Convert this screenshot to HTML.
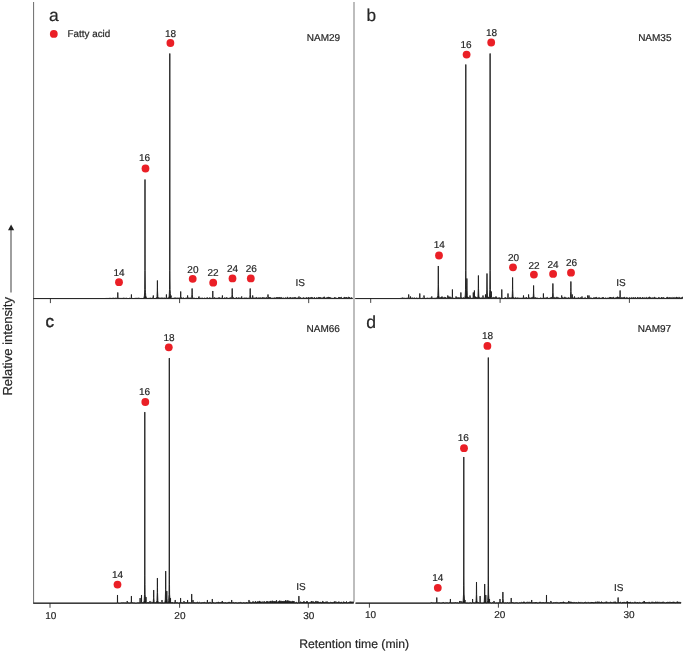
<!DOCTYPE html>
<html lang="en"><head><meta charset="utf-8"><title>Fatty acid chromatograms</title>
<style>
html,body{margin:0;padding:0;background:#fff;}
body{width:685px;height:653px;overflow:hidden;}
svg{display:block;}
</style></head><body>
<svg width="685" height="653" viewBox="0 0 685 653">
<g fill="none">
<path d="M33.6,2 V603.5" stroke="#6a6a6a" stroke-width="1"/>
<path d="M354.0,2 V601.8" stroke="#b2b2b2" stroke-width="1.7"/>
<path d="M50.4,298.5 v4.6" stroke="#444" stroke-width="1"/><path d="M179.6,298.5 v4.6" stroke="#444" stroke-width="1"/><path d="M308.7,298.5 v4.6" stroke="#444" stroke-width="1"/>
<path d="M370.7,298.5 v4.4" stroke="#444" stroke-width="1"/><path d="M500.1,298.5 v4.4" stroke="#444" stroke-width="1"/><path d="M629.4,298.5 v4.4" stroke="#444" stroke-width="1"/>
<path d="M50.0,603.1 v4.7" stroke="#444" stroke-width="1"/><path d="M179.6,603.1 v4.7" stroke="#444" stroke-width="1"/><path d="M308.3,603.1 v4.7" stroke="#444" stroke-width="1"/>
<path d="M369.4,603.1 v4.6" stroke="#444" stroke-width="1"/><path d="M498.4,603.1 v4.6" stroke="#444" stroke-width="1"/><path d="M627.5,603.1 v4.6" stroke="#444" stroke-width="1"/>
</g>
<g fill="#1c1c1c" stroke="#1c1c1c" stroke-width="0.9" stroke-linejoin="bevel">
<path d="M33.50,298.50 L34.00,298.50 L34.50,298.50 L35.00,298.50 L35.50,298.50 L36.00,298.50 L36.50,298.50 L37.00,298.50 L37.50,298.50 L38.00,298.50 L38.50,298.50 L39.00,298.50 L39.50,298.50 L40.00,298.50 L40.50,298.50 L41.00,298.50 L41.50,298.50 L42.00,298.50 L42.50,298.50 L43.00,298.50 L43.50,298.50 L44.00,298.50 L44.50,298.50 L45.00,298.50 L45.50,298.50 L46.00,298.50 L46.50,298.50 L47.00,298.50 L47.50,298.50 L48.00,298.50 L48.50,298.50 L49.00,298.50 L49.50,298.50 L50.00,298.50 L50.50,298.50 L51.00,298.50 L51.50,298.50 L52.00,298.50 L52.50,298.50 L53.00,298.50 L53.50,298.50 L54.00,298.50 L54.50,298.50 L55.00,298.50 L55.50,298.50 L56.00,298.50 L56.50,298.50 L57.00,298.50 L57.50,298.50 L58.00,298.50 L58.50,298.50 L59.00,298.50 L59.50,298.50 L60.00,298.50 L60.50,298.50 L61.00,298.50 L61.50,298.50 L62.00,298.50 L62.50,298.50 L63.00,298.50 L63.50,298.50 L64.00,298.50 L64.50,298.50 L65.00,298.50 L65.50,298.50 L66.00,298.50 L66.50,298.50 L67.00,298.50 L67.50,298.50 L68.00,298.50 L68.50,298.50 L69.00,298.50 L69.50,298.50 L70.00,298.50 L70.50,298.50 L71.00,298.50 L71.50,298.50 L72.00,298.50 L72.50,298.50 L73.00,298.50 L73.50,298.50 L74.00,298.50 L74.50,298.50 L75.00,298.50 L75.50,298.50 L76.00,298.50 L76.50,298.50 L77.00,298.50 L77.50,298.50 L78.00,298.50 L78.50,298.50 L79.00,298.50 L79.50,298.50 L80.00,298.50 L80.50,298.50 L81.00,298.50 L81.50,298.50 L82.00,298.50 L82.50,298.50 L83.00,298.50 L83.50,298.50 L84.00,298.50 L84.50,298.50 L85.00,298.50 L85.50,298.50 L86.00,298.50 L86.50,298.50 L87.00,298.50 L87.50,298.50 L88.00,298.50 L88.50,298.50 L89.00,298.50 L89.50,298.50 L90.00,298.50 L90.50,298.50 L91.00,298.50 L91.50,298.50 L92.00,298.50 L92.50,298.50 L93.00,298.50 L93.50,298.50 L94.00,298.50 L94.50,298.50 L95.00,298.50 L95.50,298.50 L96.00,298.50 L96.50,298.50 L97.00,298.50 L97.50,298.50 L98.00,298.50 L98.50,298.50 L99.00,298.50 L99.50,298.50 L100.00,298.50 L100.50,298.50 L101.00,298.50 L101.50,298.50 L102.00,298.50 L102.50,298.50 L103.00,298.50 L103.50,298.50 L104.00,298.50 L104.50,298.50 L105.00,298.47 L105.50,298.47 L106.00,298.24 L106.50,298.43 L107.00,298.47 L107.50,298.44 L108.00,298.33 L108.50,298.45 L109.00,298.44 L109.50,298.30 L110.00,298.33 L110.50,298.32 L111.00,298.19 L111.50,298.42 L112.00,298.36 L112.50,298.28 L113.00,298.29 L113.50,298.15 L114.00,298.28 L114.50,298.36 L115.00,298.35 L115.50,298.15 L116.00,298.40 L116.50,298.20 L117.00,298.21 L117.17,298.22 L117.50,298.00 L117.72,297.66 L117.76,292.50 L117.84,292.50 L117.88,297.30 L118.00,297.56 L118.43,298.32 L118.50,298.35 L119.00,298.41 L119.50,298.33 L120.00,298.43 L120.50,298.39 L121.00,298.46 L121.50,298.39 L122.00,298.49 L122.50,298.37 L123.00,298.25 L123.50,298.11 L124.00,298.16 L124.50,298.26 L125.00,298.47 L125.50,298.33 L126.00,298.31 L126.50,298.18 L127.00,298.45 L127.50,298.46 L128.00,298.31 L128.50,298.50 L129.00,298.23 L129.50,298.20 L130.00,298.31 L130.50,298.26 L130.77,298.30 L131.00,298.15 L131.32,297.66 L131.36,294.50 L131.44,294.50 L131.48,297.30 L131.50,297.34 L132.00,298.20 L132.03,298.21 L132.50,298.46 L133.00,298.26 L133.50,298.49 L134.00,298.34 L134.50,298.42 L135.00,298.22 L135.50,298.30 L136.00,298.29 L136.50,298.27 L137.00,298.35 L137.50,298.30 L138.00,298.19 L138.50,298.13 L139.00,298.45 L139.50,298.32 L140.00,298.47 L140.50,298.46 L141.00,298.30 L141.50,298.43 L142.00,298.30 L142.50,298.48 L143.00,298.28 L143.50,298.37 L143.70,298.34 L144.00,297.43 L144.40,296.00 L144.50,293.97 L144.72,289.50 L144.90,270.50 L144.97,179.50 L145.00,179.50 L145.03,179.50 L145.10,270.50 L145.30,289.50 L145.50,292.50 L145.70,295.50 L146.00,296.62 L146.50,298.28 L147.00,298.40 L147.50,298.40 L148.00,298.32 L148.50,298.35 L149.00,298.31 L149.50,298.27 L150.00,298.24 L150.50,298.12 L151.00,298.31 L151.50,298.36 L152.00,298.21 L152.50,297.89 L152.67,297.85 L153.00,297.79 L153.22,297.66 L153.26,295.50 L153.34,295.50 L153.38,297.30 L153.50,297.56 L153.93,298.17 L154.00,298.14 L154.50,298.50 L155.00,298.34 L155.50,298.39 L156.00,297.99 L156.40,298.27 L156.50,298.19 L156.98,296.70 L157.00,296.29 L157.26,290.94 L157.37,280.50 L157.43,280.50 L157.50,287.14 L157.54,290.94 L157.85,296.70 L158.00,297.12 L158.50,298.01 L159.00,298.18 L159.50,298.01 L160.00,298.37 L160.50,298.08 L161.00,298.36 L161.50,297.92 L162.00,298.34 L162.50,298.02 L163.00,297.87 L163.50,298.16 L164.00,298.47 L164.50,298.03 L165.00,297.78 L165.50,298.20 L165.77,298.25 L166.00,298.15 L166.32,297.66 L166.36,294.50 L166.44,294.50 L166.48,297.30 L166.50,297.34 L167.00,298.27 L167.03,298.26 L167.50,298.19 L168.00,298.28 L168.50,298.33 L169.00,296.71 L169.20,296.00 L169.50,289.91 L169.52,289.50 L169.70,270.50 L169.77,53.50 L169.83,53.50 L169.90,270.50 L170.00,280.00 L170.10,289.50 L170.37,293.55 L170.50,295.50 L170.92,297.07 L170.96,295.50 L171.00,295.50 L171.04,295.50 L171.08,297.30 L171.30,297.78 L171.50,298.11 L171.63,298.14 L172.00,298.23 L172.50,298.33 L173.00,298.06 L173.50,298.30 L174.00,297.85 L174.50,298.00 L175.00,298.26 L175.50,297.89 L176.00,297.90 L176.50,298.13 L177.00,298.46 L177.50,298.04 L178.00,298.17 L178.50,298.14 L179.00,297.80 L179.50,298.07 L180.00,298.12 L180.07,298.14 L180.50,297.84 L180.62,297.66 L180.66,291.50 L180.74,291.50 L180.78,297.30 L181.00,297.78 L181.33,297.93 L181.50,297.82 L182.00,297.68 L182.50,298.29 L183.00,298.19 L183.50,297.83 L184.00,298.16 L184.50,298.46 L185.00,298.49 L185.50,298.23 L186.00,298.38 L186.50,297.94 L186.97,298.17 L187.00,298.19 L187.50,297.69 L187.52,297.66 L187.56,295.50 L187.64,295.50 L187.68,297.30 L188.00,298.00 L188.23,298.09 L188.50,297.93 L189.00,298.01 L189.50,298.09 L190.00,298.00 L190.50,297.83 L191.00,298.44 L191.10,298.41 L191.50,297.81 L191.68,297.50 L191.96,294.30 L192.00,292.19 L192.07,288.50 L192.13,288.50 L192.24,294.30 L192.50,296.98 L192.55,297.50 L193.00,298.19 L193.20,298.27 L193.50,298.11 L194.00,297.93 L194.50,298.21 L195.00,298.25 L195.50,298.45 L196.00,298.42 L196.50,298.34 L197.00,298.05 L197.50,298.49 L198.00,297.90 L198.37,297.85 L198.50,297.84 L198.92,297.94 L198.96,296.50 L199.00,296.50 L199.04,296.50 L199.08,297.70 L199.50,298.31 L199.63,298.37 L200.00,298.11 L200.50,298.23 L201.00,298.50 L201.50,297.96 L202.00,298.02 L202.50,298.27 L203.00,297.83 L203.50,298.43 L204.00,298.44 L204.50,298.05 L205.00,298.34 L205.50,298.45 L206.00,298.30 L206.50,297.76 L207.00,298.37 L207.50,297.67 L208.00,297.89 L208.50,298.43 L209.00,298.05 L209.50,297.81 L210.00,298.09 L210.50,298.10 L211.00,298.45 L211.50,297.86 L212.00,298.45 L212.17,298.38 L212.50,298.00 L212.72,297.66 L212.76,291.00 L212.84,291.00 L212.88,297.30 L213.00,297.56 L213.43,298.23 L213.50,298.25 L214.00,298.10 L214.50,297.70 L215.00,297.61 L215.50,298.37 L216.00,298.32 L216.50,298.27 L217.00,297.84 L217.50,298.26 L218.00,298.04 L218.50,297.78 L219.00,297.91 L219.50,297.57 L220.00,298.47 L220.50,297.96 L221.00,298.23 L221.50,298.05 L221.77,297.96 L222.00,297.88 L222.32,297.66 L222.36,295.50 L222.44,295.50 L222.48,297.30 L222.50,297.34 L223.00,298.42 L223.03,298.43 L223.50,298.48 L224.00,298.21 L224.50,298.06 L225.00,297.57 L225.50,298.25 L226.00,297.91 L226.50,297.54 L227.00,298.24 L227.50,297.86 L228.00,298.39 L228.50,298.35 L229.00,298.25 L229.50,298.12 L230.00,297.86 L230.50,297.69 L231.00,298.15 L231.20,297.93 L231.50,297.62 L231.78,297.50 L232.00,294.99 L232.06,294.30 L232.17,288.50 L232.23,288.50 L232.34,294.30 L232.50,295.95 L232.65,297.50 L233.00,297.81 L233.30,297.64 L233.50,297.53 L234.00,298.37 L234.50,298.37 L235.00,298.34 L235.50,298.20 L236.00,297.90 L236.50,297.56 L237.00,297.87 L237.50,298.24 L238.00,298.37 L238.50,297.94 L239.00,297.52 L239.50,298.11 L240.00,298.29 L240.50,298.06 L241.00,297.98 L241.07,297.99 L241.50,298.06 L241.62,297.94 L241.66,296.50 L241.74,296.50 L241.78,297.70 L242.00,298.02 L242.33,298.38 L242.50,298.41 L243.00,298.29 L243.50,298.01 L244.00,298.50 L244.50,298.03 L245.00,297.69 L245.50,298.12 L246.00,297.94 L246.50,297.95 L247.00,298.10 L247.50,298.29 L248.00,298.37 L248.50,297.80 L249.00,298.45 L249.20,298.42 L249.50,297.98 L249.78,297.50 L250.00,294.99 L250.06,294.30 L250.17,288.50 L250.23,288.50 L250.34,294.30 L250.50,295.95 L250.65,297.50 L251.00,297.54 L251.30,297.95 L251.50,298.22 L252.00,298.16 L252.07,298.16 L252.50,297.84 L252.62,297.66 L252.66,295.50 L252.74,295.50 L252.78,297.30 L253.00,297.78 L253.33,298.03 L253.50,297.91 L254.00,298.07 L254.50,298.00 L255.00,298.22 L255.50,297.96 L256.00,297.54 L256.50,297.40 L257.00,298.06 L257.50,297.88 L258.00,298.43 L258.50,297.87 L259.00,297.71 L259.50,298.47 L260.00,297.51 L260.50,298.01 L261.00,298.45 L261.50,297.87 L262.00,298.31 L262.50,297.43 L263.00,298.13 L263.50,297.58 L264.00,298.10 L264.50,297.85 L265.00,297.88 L265.50,298.03 L266.00,297.80 L266.50,297.41 L267.00,298.16 L267.37,298.10 L267.50,298.08 L267.92,297.63 L267.96,294.50 L268.00,294.50 L268.04,294.50 L268.08,297.30 L268.50,297.71 L268.63,297.56 L269.00,297.15 L269.50,298.05 L270.00,297.26 L270.50,297.94 L271.00,297.64 L271.50,298.26 L272.00,297.91 L272.50,298.16 L273.00,298.05 L273.50,298.29 L274.00,297.60 L274.50,298.04 L275.00,298.21 L275.50,298.11 L276.00,297.81 L276.50,297.30 L277.00,298.22 L277.50,297.76 L278.00,297.12 L278.50,297.96 L279.00,298.13 L279.37,297.97 L279.50,297.91 L279.92,298.08 L279.96,297.00 L280.00,297.00 L280.04,297.00 L280.08,297.90 L280.50,298.36 L280.63,298.41 L281.00,298.26 L281.50,297.45 L282.00,297.74 L282.50,298.20 L283.00,298.37 L283.50,297.82 L284.00,298.11 L284.50,298.39 L285.00,298.00 L285.50,297.63 L286.00,298.29 L286.50,298.22 L287.00,297.50 L287.50,297.13 L288.00,298.42 L288.50,298.41 L289.00,297.57 L289.50,298.02 L290.00,297.91 L290.50,297.33 L291.00,298.15 L291.50,298.18 L292.00,297.65 L292.50,298.49 L293.00,297.48 L293.50,297.97 L294.00,298.02 L294.50,297.52 L295.00,297.42 L295.50,297.47 L296.00,298.41 L296.50,298.10 L297.00,298.01 L297.50,298.38 L298.00,297.59 L298.37,298.09 L298.50,298.26 L298.92,297.77 L298.96,296.50 L299.00,296.50 L299.04,296.50 L299.08,297.70 L299.50,298.24 L299.63,298.13 L300.00,297.81 L300.50,297.53 L301.00,298.23 L301.50,298.26 L302.00,298.12 L302.50,298.16 L303.00,298.45 L303.50,297.67 L304.00,297.50 L304.50,298.46 L305.00,298.18 L305.50,298.32 L306.00,297.59 L306.50,297.91 L307.00,297.44 L307.50,298.23 L308.00,298.02 L308.50,297.59 L309.00,297.21 L309.50,298.49 L310.00,298.06 L310.50,297.64 L311.00,298.12 L311.50,297.44 L312.00,297.20 L312.50,298.08 L313.00,297.73 L313.50,298.23 L314.00,298.02 L314.50,297.36 L315.00,298.10 L315.50,298.45 L316.00,297.82 L316.50,297.84 L317.00,298.04 L317.50,298.22 L318.00,297.44 L318.50,297.41 L319.00,298.44 L319.50,297.49 L320.00,297.02 L320.50,298.09 L321.00,298.37 L321.50,297.93 L322.00,298.29 L322.50,297.98 L323.00,297.94 L323.50,297.27 L324.00,297.12 L324.50,296.91 L325.00,298.07 L325.50,298.38 L326.00,298.38 L326.50,297.70 L327.00,297.46 L327.50,297.43 L328.00,298.06 L328.50,297.17 L329.00,297.01 L329.50,298.05 L330.00,297.29 L330.50,297.84 L331.00,298.36 L331.50,297.82 L332.00,298.32 L332.50,298.36 L333.00,298.49 L333.50,298.33 L334.00,298.32 L334.50,297.40 L335.00,298.40 L335.50,297.64 L336.00,298.04 L336.50,298.23 L337.00,298.02 L337.50,298.44 L338.00,297.75 L338.50,297.43 L339.00,298.16 L339.50,297.22 L340.00,298.01 L340.50,297.60 L341.00,297.69 L341.50,297.35 L342.00,297.79 L342.50,298.48 L343.00,298.25 L343.50,298.40 L344.00,297.31 L344.50,297.35 L345.00,298.32 L345.50,297.58 L346.00,297.59 L346.50,297.51 L347.00,297.40 L347.50,298.34 L348.00,297.49 L348.50,297.24 L349.00,297.59 L349.50,297.54 L350.00,297.53 L350.50,298.39 L351.00,297.93 L351.50,297.67 L352.00,297.83 L352.50,298.19 L352.50,298.60 L33.50,298.60 Z"/>
<path d="M355.30,298.50 L355.80,298.50 L356.30,298.50 L356.80,298.50 L357.30,298.50 L357.80,298.50 L358.30,298.50 L358.80,298.50 L359.30,298.50 L359.80,298.50 L360.30,298.50 L360.80,298.50 L361.30,298.50 L361.80,298.50 L362.30,298.50 L362.80,298.50 L363.30,298.50 L363.80,298.50 L364.30,298.50 L364.80,298.50 L365.30,298.50 L365.80,298.50 L366.30,298.50 L366.80,298.50 L367.30,298.50 L367.80,298.50 L368.30,298.50 L368.80,298.50 L369.30,298.50 L369.80,298.50 L370.30,298.50 L370.80,298.50 L371.30,298.50 L371.80,298.50 L372.30,298.50 L372.80,298.50 L373.30,298.50 L373.80,298.50 L374.30,298.50 L374.80,298.50 L375.30,298.50 L375.80,298.50 L376.30,298.50 L376.80,298.50 L377.30,298.50 L377.80,298.50 L378.30,298.50 L378.80,298.50 L379.30,298.50 L379.80,298.50 L380.30,298.50 L380.80,298.50 L381.30,298.50 L381.80,298.50 L382.30,298.50 L382.80,298.50 L383.30,298.50 L383.80,298.50 L384.30,298.50 L384.80,298.50 L385.30,298.50 L385.80,298.50 L386.30,298.50 L386.80,298.50 L387.30,298.50 L387.80,298.50 L388.30,298.50 L388.80,298.50 L389.30,298.50 L389.80,298.50 L390.30,298.50 L390.80,298.50 L391.30,298.50 L391.80,298.50 L392.30,298.50 L392.80,298.50 L393.30,298.50 L393.80,298.50 L394.30,298.50 L394.80,298.50 L395.30,298.50 L395.80,298.50 L396.30,298.50 L396.80,298.50 L397.30,298.50 L397.80,298.50 L398.30,298.50 L398.80,298.50 L399.30,298.50 L399.80,298.50 L400.30,298.47 L400.80,298.32 L401.30,298.24 L401.80,298.16 L402.30,297.80 L402.80,298.10 L403.30,298.09 L403.80,298.27 L404.30,298.19 L404.80,298.27 L405.30,298.35 L405.80,298.25 L406.30,298.16 L406.80,298.31 L407.30,298.03 L407.80,298.18 L408.07,298.13 L408.30,298.08 L408.62,297.66 L408.66,294.50 L408.74,294.50 L408.78,297.30 L408.80,297.34 L409.30,298.07 L409.33,298.09 L409.80,298.43 L409.87,298.41 L410.30,298.06 L410.42,297.94 L410.46,296.50 L410.54,296.50 L410.58,297.70 L410.80,298.02 L411.13,298.21 L411.30,298.15 L411.80,298.04 L412.30,297.81 L412.80,298.24 L413.30,298.40 L413.80,298.04 L414.30,298.07 L414.80,297.82 L415.30,298.27 L415.80,298.33 L416.30,298.00 L416.80,298.10 L417.30,298.49 L417.80,298.10 L418.30,298.40 L418.80,298.00 L419.17,297.95 L419.30,297.93 L419.72,297.66 L419.76,293.50 L419.80,293.50 L419.84,293.50 L419.88,297.30 L420.30,298.22 L420.43,298.43 L420.80,298.38 L421.30,298.43 L421.80,298.50 L422.30,298.36 L422.80,297.89 L423.30,298.44 L423.37,298.37 L423.80,297.84 L423.92,297.66 L423.96,295.50 L424.04,295.50 L424.08,297.30 L424.30,297.73 L424.63,297.93 L424.80,298.03 L425.30,298.49 L425.80,298.33 L426.30,298.33 L426.80,298.23 L427.30,298.13 L427.80,298.05 L428.30,298.18 L428.80,298.40 L429.30,298.16 L429.80,298.38 L430.30,297.98 L430.80,298.30 L431.17,298.44 L431.30,298.37 L431.72,297.94 L431.76,296.50 L431.80,296.50 L431.84,296.50 L431.88,297.70 L432.30,298.17 L432.43,298.21 L432.80,298.30 L433.30,298.30 L433.80,298.25 L434.30,298.11 L434.80,298.42 L435.30,298.09 L435.80,298.41 L436.30,297.98 L436.80,298.05 L437.30,298.15 L437.80,295.70 L437.88,295.25 L438.16,284.85 L438.27,266.00 L438.30,266.00 L438.33,266.00 L438.44,284.85 L438.75,295.25 L438.80,295.50 L439.30,298.00 L439.40,298.07 L439.80,298.09 L440.30,298.29 L440.80,297.29 L441.30,298.13 L441.37,297.98 L441.80,297.09 L441.92,297.33 L441.96,296.50 L442.04,296.50 L442.08,297.64 L442.30,298.02 L442.63,297.67 L442.80,297.47 L443.30,298.48 L443.80,297.62 L444.30,298.11 L444.80,297.21 L445.30,297.57 L445.80,297.53 L446.30,298.08 L446.80,298.20 L447.17,297.81 L447.30,297.67 L447.72,296.97 L447.76,295.50 L447.80,295.50 L447.84,295.50 L447.88,296.80 L448.30,296.63 L448.43,297.03 L448.80,298.18 L449.30,297.26 L449.80,296.67 L450.30,297.85 L450.80,297.39 L451.30,297.62 L451.77,297.98 L451.80,298.00 L452.30,297.40 L452.32,297.41 L452.36,289.50 L452.44,289.50 L452.48,297.30 L452.80,297.72 L453.03,297.86 L453.30,298.01 L453.80,298.41 L454.30,298.40 L454.80,298.18 L455.30,297.95 L455.37,297.88 L455.80,297.44 L455.92,297.34 L455.96,296.50 L456.04,296.50 L456.08,297.21 L456.30,297.03 L456.63,297.71 L456.80,298.07 L457.30,297.77 L457.80,297.71 L458.30,298.15 L458.80,297.38 L459.30,298.06 L459.80,297.80 L460.27,297.69 L460.30,297.68 L460.80,297.69 L460.82,297.66 L460.86,292.50 L460.94,292.50 L460.98,297.30 L461.30,297.72 L461.53,297.64 L461.80,297.54 L462.30,298.32 L462.80,297.89 L463.30,297.68 L463.80,297.70 L464.30,298.44 L464.50,298.18 L464.80,297.43 L465.20,296.00 L465.30,293.97 L465.52,289.50 L465.70,270.50 L465.77,64.50 L465.80,64.50 L465.83,64.50 L465.90,270.50 L466.10,289.50 L466.30,292.50 L466.48,295.20 L466.50,295.50 L466.76,290.10 L466.80,285.88 L466.87,278.50 L466.93,278.50 L467.04,290.10 L467.30,295.47 L467.35,296.50 L467.80,296.73 L468.00,296.90 L468.30,297.15 L468.80,298.26 L469.30,298.17 L469.37,298.04 L469.80,297.26 L469.92,297.26 L469.96,295.50 L470.04,295.50 L470.08,297.26 L470.30,297.26 L470.63,297.64 L470.80,297.84 L471.30,298.30 L471.80,298.06 L472.30,297.99 L472.67,298.11 L472.80,298.15 L473.22,297.41 L473.26,292.50 L473.30,292.50 L473.34,292.50 L473.38,297.30 L473.77,298.15 L473.80,298.22 L473.93,298.07 L474.30,297.31 L474.32,297.31 L474.36,290.50 L474.44,290.50 L474.48,297.29 L474.80,297.25 L475.03,297.11 L475.30,296.95 L475.80,296.81 L476.30,297.81 L476.80,297.45 L477.30,298.47 L477.40,298.25 L477.80,296.91 L477.98,296.20 L478.26,288.84 L478.30,283.99 L478.37,275.50 L478.43,275.50 L478.54,288.84 L478.80,295.01 L478.85,296.20 L479.30,297.57 L479.50,297.60 L479.80,297.64 L480.30,298.08 L480.80,298.01 L481.30,297.62 L481.80,298.29 L482.30,298.01 L482.37,298.06 L482.80,297.84 L482.92,297.66 L482.96,295.50 L483.04,295.50 L483.08,297.30 L483.30,297.74 L483.63,297.90 L483.80,297.97 L484.30,297.82 L484.80,298.22 L484.87,298.13 L485.30,297.60 L485.42,297.46 L485.46,294.50 L485.54,294.50 L485.58,297.28 L485.80,297.04 L486.00,297.21 L486.13,297.32 L486.30,297.21 L486.58,296.00 L486.80,289.71 L486.86,288.00 L486.97,273.50 L487.03,273.50 L487.14,288.00 L487.30,292.13 L487.45,296.00 L487.80,297.35 L488.10,297.33 L488.30,297.03 L488.80,298.36 L489.30,296.71 L489.50,296.00 L489.80,289.91 L489.82,289.50 L490.00,270.50 L490.07,53.50 L490.13,53.50 L490.20,270.50 L490.30,280.00 L490.40,289.50 L490.67,293.55 L490.80,295.50 L491.22,297.08 L491.26,291.50 L491.30,291.50 L491.34,291.50 L491.38,297.30 L491.60,297.78 L491.80,298.10 L491.93,297.97 L492.30,297.63 L492.80,297.71 L493.30,297.53 L493.80,297.46 L494.30,297.74 L494.80,297.62 L495.30,297.36 L495.37,297.43 L495.80,297.91 L495.92,297.81 L495.96,296.50 L496.04,296.50 L496.08,297.69 L496.30,297.51 L496.63,297.62 L496.80,297.67 L497.30,298.21 L497.80,297.84 L498.30,297.78 L498.80,298.15 L499.30,298.32 L499.80,297.48 L500.30,298.36 L500.80,298.37 L501.17,297.97 L501.30,297.84 L501.72,297.64 L501.76,289.50 L501.80,289.50 L501.84,289.50 L501.88,297.30 L502.30,298.22 L502.43,298.33 L502.80,298.49 L503.30,297.98 L503.80,298.47 L504.30,298.16 L504.80,298.06 L505.30,297.40 L505.80,298.01 L506.30,297.97 L506.80,298.39 L507.30,298.07 L507.37,298.11 L507.80,297.84 L507.92,297.66 L507.96,293.50 L508.04,293.50 L508.08,297.30 L508.30,297.78 L508.63,298.27 L508.80,298.20 L509.30,298.01 L509.80,297.60 L510.30,297.64 L510.80,298.29 L511.30,297.93 L511.60,297.61 L511.80,297.39 L512.18,296.40 L512.30,293.52 L512.46,289.68 L512.57,277.50 L512.63,277.50 L512.74,289.68 L512.80,290.98 L513.05,296.40 L513.30,297.21 L513.70,297.98 L513.80,298.04 L514.30,298.44 L514.80,297.78 L515.30,297.45 L515.80,298.49 L516.30,297.75 L516.80,298.48 L517.30,297.81 L517.80,298.04 L518.30,297.77 L518.80,298.42 L519.30,298.24 L519.80,298.12 L520.30,298.18 L520.80,298.15 L521.30,298.15 L521.80,298.18 L522.30,298.00 L522.80,298.01 L522.87,297.98 L523.30,297.74 L523.42,297.66 L523.46,295.50 L523.54,295.50 L523.58,297.30 L523.80,297.74 L524.13,297.80 L524.30,297.82 L524.80,298.22 L525.30,297.70 L525.80,298.11 L526.30,297.62 L526.80,297.55 L527.30,298.45 L527.80,298.01 L527.97,298.10 L528.30,298.00 L528.52,297.66 L528.56,294.50 L528.64,294.50 L528.68,297.30 L528.80,297.56 L529.23,298.00 L529.30,298.05 L529.80,297.68 L530.30,298.21 L530.80,297.84 L531.30,297.78 L531.80,297.86 L532.30,297.30 L532.60,297.38 L532.80,297.42 L533.18,297.20 L533.30,295.42 L533.46,293.04 L533.57,285.50 L533.63,285.50 L533.74,293.04 L533.80,293.85 L534.05,297.20 L534.30,297.70 L534.70,297.82 L534.80,297.75 L535.30,297.60 L535.80,297.81 L536.30,298.02 L536.80,298.12 L537.30,297.84 L537.80,298.36 L538.30,298.38 L538.80,298.44 L539.30,298.47 L539.80,298.19 L540.30,297.79 L540.80,298.24 L541.30,298.14 L541.80,298.44 L542.30,298.21 L542.77,298.37 L542.80,298.38 L543.30,297.69 L543.32,297.66 L543.36,293.50 L543.44,293.50 L543.48,297.30 L543.80,298.00 L544.03,298.29 L544.30,298.08 L544.80,298.20 L545.30,297.75 L545.80,298.26 L546.30,297.70 L546.80,297.84 L547.30,297.36 L547.80,297.73 L548.30,298.38 L548.80,298.35 L549.30,298.34 L549.80,297.93 L550.30,297.62 L550.80,298.07 L551.30,297.47 L551.80,297.36 L551.90,297.34 L552.30,297.27 L552.48,297.00 L552.76,292.20 L552.80,289.04 L552.87,283.50 L552.93,283.50 L553.04,292.20 L553.30,296.23 L553.35,297.00 L553.80,297.49 L554.00,297.45 L554.30,297.37 L554.80,298.48 L555.30,298.28 L555.80,297.49 L556.30,297.23 L556.80,297.56 L557.30,297.27 L557.80,297.99 L558.30,297.78 L558.80,297.90 L559.30,298.34 L559.80,297.97 L560.30,298.17 L560.80,298.46 L561.07,298.44 L561.30,298.15 L561.62,297.66 L561.66,295.50 L561.74,295.50 L561.78,297.30 L561.80,297.34 L562.30,297.86 L562.33,297.84 L562.80,297.45 L563.30,298.35 L563.80,297.65 L564.30,297.23 L564.80,297.52 L565.30,297.29 L565.80,298.35 L566.30,298.15 L566.80,297.78 L567.30,298.05 L567.80,298.00 L568.30,297.70 L568.80,297.68 L569.30,298.18 L569.80,298.15 L569.90,298.07 L570.30,297.33 L570.48,296.80 L570.76,291.36 L570.80,287.77 L570.87,281.50 L570.93,281.50 L571.04,291.36 L571.30,295.92 L571.35,296.80 L571.57,297.38 L571.80,297.98 L572.00,297.84 L572.12,297.66 L572.16,294.50 L572.24,294.50 L572.28,297.30 L572.30,297.34 L572.80,297.30 L572.83,297.35 L573.30,298.11 L573.80,298.03 L573.87,298.08 L574.30,298.06 L574.42,297.94 L574.46,296.50 L574.54,296.50 L574.58,297.70 L574.80,298.02 L575.13,298.31 L575.30,298.26 L575.80,297.88 L576.30,298.05 L576.80,298.43 L577.30,297.78 L577.80,298.33 L578.30,297.66 L578.80,297.71 L579.30,298.28 L579.80,298.26 L580.30,297.46 L580.80,298.29 L581.30,298.11 L581.37,298.08 L581.80,297.85 L581.92,297.94 L581.96,296.50 L582.04,296.50 L582.08,297.70 L582.30,298.02 L582.63,298.34 L582.80,298.31 L583.30,298.25 L583.80,298.30 L584.30,297.97 L584.80,297.97 L585.30,297.49 L585.80,298.45 L586.30,298.49 L586.80,298.40 L587.07,298.01 L587.30,297.68 L587.62,297.66 L587.66,295.50 L587.74,295.50 L587.78,297.30 L587.80,297.34 L588.30,297.61 L588.33,297.62 L588.37,297.63 L588.80,297.76 L588.92,297.66 L588.96,295.50 L589.04,295.50 L589.08,297.30 L589.30,297.78 L589.63,297.93 L589.80,297.94 L590.30,297.65 L590.80,298.31 L591.30,298.03 L591.80,298.29 L592.30,298.33 L592.80,298.48 L593.30,298.15 L593.80,297.60 L594.30,298.40 L594.80,297.58 L595.30,297.58 L595.80,298.08 L596.30,297.18 L596.80,297.62 L597.30,298.02 L597.80,298.18 L598.30,297.87 L598.80,297.90 L599.30,298.07 L599.80,297.62 L600.30,298.48 L600.80,298.16 L601.30,298.17 L601.80,298.43 L602.30,297.38 L602.80,298.21 L603.30,297.35 L603.80,298.36 L604.30,298.47 L604.80,298.15 L605.30,298.11 L605.80,297.76 L606.30,298.13 L606.80,298.43 L607.30,297.98 L607.80,298.31 L608.30,298.05 L608.80,298.06 L609.30,297.83 L609.37,297.91 L609.80,298.17 L609.92,298.08 L609.96,297.00 L610.04,297.00 L610.08,297.90 L610.30,298.00 L610.63,297.46 L610.80,297.18 L611.30,298.02 L611.80,297.64 L612.30,298.46 L612.80,297.37 L613.30,297.14 L613.80,298.14 L614.30,297.82 L614.80,298.45 L615.30,298.07 L615.80,297.77 L616.30,298.04 L616.80,297.26 L617.30,296.99 L617.80,297.05 L618.30,297.53 L618.80,297.34 L619.30,297.19 L619.47,297.52 L619.80,298.00 L620.02,297.66 L620.06,290.50 L620.14,290.50 L620.18,297.30 L620.30,297.56 L620.73,298.40 L620.80,298.42 L621.30,298.29 L621.80,297.39 L622.30,298.04 L622.80,297.69 L623.30,297.92 L623.80,297.31 L624.30,297.05 L624.80,297.92 L625.30,298.38 L625.80,297.71 L626.30,297.79 L626.80,297.61 L627.30,298.07 L627.80,297.65 L628.30,298.22 L628.80,298.48 L629.30,297.53 L629.80,297.90 L630.30,298.43 L630.80,297.77 L631.30,297.94 L631.80,297.49 L632.30,297.80 L632.80,298.41 L633.30,297.38 L633.80,298.09 L634.30,298.02 L634.80,298.09 L635.30,297.34 L635.80,297.90 L636.30,298.24 L636.80,298.26 L637.30,297.59 L637.80,297.23 L638.30,297.94 L638.80,298.20 L639.30,297.56 L639.80,298.48 L640.30,297.53 L640.80,297.70 L641.30,298.07 L641.80,298.28 L642.30,298.13 L642.80,297.19 L643.30,298.28 L643.80,298.20 L644.30,297.89 L644.80,297.69 L645.30,298.16 L645.80,297.72 L646.30,297.80 L646.80,297.37 L647.30,297.74 L647.80,298.44 L648.30,297.97 L648.80,297.31 L649.30,297.18 L649.80,296.94 L650.30,297.90 L650.80,297.85 L651.30,298.48 L651.80,297.63 L652.30,297.69 L652.80,298.14 L653.30,297.85 L653.80,297.94 L654.30,297.44 L654.80,296.98 L655.30,298.37 L655.80,298.22 L656.30,298.21 L656.80,298.08 L657.30,298.48 L657.80,298.01 L658.30,297.73 L658.80,297.45 L659.30,297.53 L659.80,298.32 L660.30,297.95 L660.80,298.47 L661.30,297.72 L661.80,297.08 L662.30,298.30 L662.80,298.09 L663.30,297.38 L663.80,298.08 L664.30,298.15 L664.80,297.96 L665.30,298.47 L665.80,298.42 L666.30,298.40 L666.80,297.30 L667.30,297.11 L667.80,298.50 L668.30,297.61 L668.80,298.37 L669.30,297.50 L669.80,297.79 L670.30,297.81 L670.80,297.70 L671.30,297.83 L671.80,297.77 L672.30,298.05 L672.80,297.43 L673.30,297.77 L673.80,297.71 L674.30,297.45 L674.80,297.96 L675.30,297.92 L675.80,297.87 L676.30,297.08 L676.80,297.33 L677.30,298.24 L677.80,297.42 L678.30,298.44 L678.80,297.40 L679.30,297.78 L679.80,297.33 L680.30,297.71 L680.80,298.27 L681.30,297.87 L681.80,297.61 L682.30,297.15 L682.50,297.05 L682.50,298.60 L355.30,298.60 Z"/>
<path d="M33.50,603.10 L34.00,603.10 L34.50,603.10 L35.00,603.10 L35.50,603.10 L36.00,603.10 L36.50,603.10 L37.00,603.10 L37.50,603.10 L38.00,603.10 L38.50,603.10 L39.00,603.10 L39.50,603.10 L40.00,603.10 L40.50,603.10 L41.00,603.10 L41.50,603.10 L42.00,603.10 L42.50,603.10 L43.00,603.10 L43.50,603.10 L44.00,603.10 L44.50,603.10 L45.00,603.10 L45.50,603.10 L46.00,603.10 L46.50,603.10 L47.00,603.10 L47.50,603.10 L48.00,603.10 L48.50,603.10 L49.00,603.10 L49.50,603.10 L50.00,603.10 L50.50,603.10 L51.00,603.10 L51.50,603.10 L52.00,603.10 L52.50,603.10 L53.00,603.10 L53.50,603.10 L54.00,603.10 L54.50,603.10 L55.00,603.10 L55.50,603.10 L56.00,603.10 L56.50,603.10 L57.00,603.10 L57.50,603.10 L58.00,603.10 L58.50,603.10 L59.00,603.10 L59.50,603.10 L60.00,603.10 L60.50,603.10 L61.00,603.10 L61.50,603.10 L62.00,603.10 L62.50,603.10 L63.00,603.10 L63.50,603.10 L64.00,603.10 L64.50,603.10 L65.00,603.10 L65.50,603.10 L66.00,603.10 L66.50,603.10 L67.00,603.10 L67.50,603.10 L68.00,603.10 L68.50,603.10 L69.00,603.10 L69.50,603.10 L70.00,603.10 L70.50,603.10 L71.00,603.10 L71.50,603.10 L72.00,603.10 L72.50,603.10 L73.00,603.10 L73.50,603.10 L74.00,603.10 L74.50,603.10 L75.00,603.10 L75.50,603.10 L76.00,603.10 L76.50,603.10 L77.00,603.10 L77.50,603.10 L78.00,603.10 L78.50,603.10 L79.00,603.10 L79.50,603.10 L80.00,603.10 L80.50,603.10 L81.00,603.10 L81.50,603.10 L82.00,603.10 L82.50,603.10 L83.00,603.10 L83.50,603.10 L84.00,603.10 L84.50,603.10 L85.00,603.10 L85.50,603.10 L86.00,603.10 L86.50,603.10 L87.00,603.10 L87.50,603.10 L88.00,603.10 L88.50,603.10 L89.00,603.10 L89.50,603.10 L90.00,603.10 L90.50,603.10 L91.00,603.10 L91.50,603.10 L92.00,603.10 L92.50,603.10 L93.00,603.10 L93.50,603.10 L94.00,603.10 L94.50,603.10 L95.00,603.10 L95.50,603.10 L96.00,603.10 L96.50,603.10 L97.00,603.10 L97.50,603.10 L98.00,603.10 L98.50,603.10 L99.00,603.10 L99.50,603.10 L100.00,603.10 L100.50,603.10 L101.00,603.10 L101.50,603.10 L102.00,603.10 L102.50,603.10 L103.00,603.10 L103.50,603.10 L104.00,603.10 L104.50,603.10 L105.00,603.10 L105.50,603.10 L106.00,603.10 L106.50,603.10 L107.00,603.10 L107.50,603.10 L108.00,603.10 L108.50,603.10 L109.00,603.10 L109.50,603.10 L110.00,603.10 L110.50,603.10 L111.00,603.10 L111.50,603.10 L112.00,603.10 L112.50,603.10 L113.00,603.10 L113.50,603.10 L114.00,603.10 L114.50,603.10 L115.00,603.10 L115.50,603.10 L116.00,603.10 L116.50,603.10 L116.87,603.10 L117.00,602.90 L117.42,602.26 L117.46,595.10 L117.50,595.10 L117.54,595.10 L117.58,601.90 L118.00,602.82 L118.13,603.10 L118.50,603.10 L119.00,603.10 L119.50,603.10 L120.00,602.91 L120.50,603.02 L121.00,602.92 L121.50,602.76 L122.00,602.97 L122.50,602.84 L123.00,602.73 L123.50,602.75 L124.00,603.04 L124.50,602.83 L125.00,603.03 L125.50,602.85 L126.00,602.85 L126.50,602.96 L126.57,602.95 L127.00,602.66 L127.12,602.54 L127.16,601.10 L127.24,601.10 L127.28,602.30 L127.50,602.62 L127.83,602.83 L128.00,602.77 L128.50,602.80 L129.00,602.71 L129.50,602.94 L130.00,602.80 L130.50,602.75 L130.77,602.73 L131.00,602.72 L131.32,602.26 L131.36,596.10 L131.44,596.10 L131.48,601.90 L131.50,601.94 L132.00,602.62 L132.03,602.63 L132.50,602.70 L133.00,603.05 L133.50,602.84 L134.00,603.02 L134.50,602.87 L135.00,602.97 L135.50,603.09 L136.00,602.99 L136.50,603.00 L137.00,602.92 L137.50,602.73 L138.00,602.97 L138.50,602.82 L139.00,602.61 L139.47,602.77 L139.50,602.78 L140.00,602.29 L140.02,602.26 L140.06,598.10 L140.14,598.10 L140.18,601.90 L140.50,602.60 L140.73,602.65 L140.87,602.67 L141.00,602.68 L141.42,602.26 L141.46,595.10 L141.50,595.10 L141.54,595.10 L141.58,601.90 L142.00,602.82 L142.13,602.93 L142.50,602.57 L143.00,602.44 L143.50,602.90 L144.00,601.31 L144.20,600.60 L144.50,594.51 L144.52,594.10 L144.70,575.10 L144.77,412.10 L144.83,412.10 L144.90,575.10 L145.00,584.60 L145.10,594.10 L145.37,598.15 L145.50,600.10 L145.92,601.67 L145.96,597.10 L146.00,597.10 L146.04,597.10 L146.08,601.90 L146.30,602.38 L146.50,602.82 L146.63,602.79 L147.00,602.59 L147.50,602.50 L148.00,602.40 L148.50,602.64 L149.00,602.26 L149.37,602.84 L149.50,602.97 L149.92,602.50 L149.96,601.10 L150.00,601.10 L150.04,601.10 L150.08,602.30 L150.50,602.91 L150.63,602.95 L151.00,602.72 L151.50,602.28 L152.00,602.66 L152.50,602.37 L152.70,602.57 L153.00,602.43 L153.28,601.80 L153.50,598.53 L153.56,597.64 L153.67,590.10 L153.73,590.10 L153.84,597.64 L154.00,599.79 L154.15,601.80 L154.50,602.50 L154.80,602.78 L155.00,602.83 L155.50,602.61 L156.00,602.31 L156.40,602.33 L156.50,602.34 L156.98,600.60 L157.00,600.03 L157.26,592.60 L157.37,578.10 L157.43,578.10 L157.50,587.33 L157.54,592.60 L157.85,600.60 L158.00,601.18 L158.50,602.76 L159.00,602.64 L159.50,602.51 L160.00,602.73 L160.50,602.61 L161.00,602.81 L161.37,602.96 L161.50,602.90 L161.92,602.26 L161.96,600.10 L162.00,600.10 L162.04,600.10 L162.08,601.90 L162.50,602.82 L162.63,602.91 L163.00,602.95 L163.50,602.79 L164.00,602.95 L164.50,602.72 L164.70,602.61 L165.00,601.44 L165.28,599.90 L165.50,591.85 L165.56,589.66 L165.67,571.10 L165.73,571.10 L165.80,582.91 L165.84,589.66 L166.00,594.95 L166.15,599.90 L166.38,601.03 L166.50,600.25 L166.66,598.06 L166.77,591.10 L166.80,591.10 L166.83,591.10 L166.94,598.06 L167.00,598.80 L167.25,601.90 L167.50,602.36 L167.90,603.04 L168.00,603.04 L168.50,601.31 L168.70,600.60 L169.00,594.51 L169.02,594.10 L169.20,575.10 L169.27,358.10 L169.33,358.10 L169.40,575.10 L169.50,584.60 L169.60,594.10 L169.87,598.15 L170.00,600.10 L170.42,601.67 L170.46,598.10 L170.50,598.10 L170.54,598.10 L170.58,601.90 L170.80,602.15 L171.00,602.03 L171.13,602.20 L171.50,602.68 L172.00,602.64 L172.50,602.62 L173.00,602.56 L173.50,603.07 L174.00,602.41 L174.50,602.81 L174.57,602.81 L175.00,602.44 L175.12,602.26 L175.16,600.10 L175.24,600.10 L175.28,601.90 L175.50,602.38 L175.83,602.53 L176.00,602.46 L176.50,602.61 L177.00,602.92 L177.50,602.41 L178.00,602.83 L178.50,603.05 L179.00,602.81 L179.50,602.88 L179.97,602.31 L180.00,602.27 L180.50,602.29 L180.52,602.26 L180.56,598.10 L180.64,598.10 L180.68,601.90 L181.00,602.54 L181.23,602.53 L181.50,602.52 L182.00,602.91 L182.50,602.87 L183.00,602.46 L183.37,602.81 L183.50,602.94 L183.92,602.54 L183.96,601.10 L184.00,601.10 L184.04,601.10 L184.08,602.30 L184.50,602.90 L184.63,602.83 L185.00,602.62 L185.50,602.59 L186.00,602.45 L186.50,602.63 L186.97,602.22 L187.00,602.20 L187.50,602.29 L187.52,602.26 L187.56,600.10 L187.64,600.10 L187.68,601.90 L188.00,602.27 L188.23,602.60 L188.50,602.98 L189.00,602.90 L189.50,602.38 L190.00,602.91 L190.50,602.67 L191.00,602.92 L191.07,602.94 L191.50,602.44 L191.62,602.26 L191.66,594.10 L191.74,594.10 L191.78,601.90 L192.00,602.38 L192.33,602.73 L192.37,602.72 L192.50,602.67 L192.92,602.26 L192.96,600.10 L193.00,600.10 L193.04,600.10 L193.08,601.90 L193.50,602.43 L193.63,602.51 L194.00,602.75 L194.50,602.60 L195.00,602.76 L195.50,602.77 L196.00,602.67 L196.50,602.77 L197.00,602.24 L197.50,602.20 L198.00,602.56 L198.50,602.82 L199.00,602.60 L199.50,602.14 L200.00,602.71 L200.50,603.02 L201.00,602.48 L201.50,602.83 L202.00,602.91 L202.50,602.54 L203.00,602.83 L203.50,602.60 L204.00,602.13 L204.50,602.36 L205.00,602.77 L205.50,602.65 L206.00,602.91 L206.50,602.83 L206.77,602.79 L207.00,602.75 L207.32,602.26 L207.36,600.10 L207.44,600.10 L207.48,601.90 L207.50,601.94 L208.00,602.77 L208.03,602.77 L208.50,602.87 L209.00,602.75 L209.50,602.28 L210.00,602.78 L210.50,602.32 L211.00,602.92 L211.50,602.92 L211.67,602.89 L212.00,602.60 L212.22,602.26 L212.26,599.10 L212.34,599.10 L212.38,601.90 L212.50,602.16 L212.93,602.27 L213.00,602.24 L213.50,602.78 L214.00,602.41 L214.50,602.91 L215.00,602.67 L215.50,602.89 L216.00,602.85 L216.50,602.45 L217.00,603.00 L217.50,602.41 L218.00,602.14 L218.50,602.01 L219.00,603.08 L219.50,602.47 L220.00,602.98 L220.50,602.47 L221.00,602.08 L221.50,602.25 L221.67,602.48 L222.00,602.76 L222.22,602.54 L222.26,601.10 L222.34,601.10 L222.38,602.30 L222.50,602.47 L222.93,602.53 L223.00,602.48 L223.50,602.54 L224.00,602.96 L224.50,602.73 L225.00,602.60 L225.50,602.62 L226.00,602.47 L226.50,602.93 L227.00,602.79 L227.50,602.75 L228.00,603.06 L228.50,602.32 L229.00,602.07 L229.50,602.36 L230.00,602.57 L230.50,602.59 L231.00,602.88 L231.07,602.84 L231.50,602.44 L231.62,602.26 L231.66,600.10 L231.74,600.10 L231.78,601.90 L232.00,602.37 L232.33,602.77 L232.50,602.98 L233.00,602.27 L233.50,602.39 L234.00,602.88 L234.50,602.80 L235.00,602.93 L235.50,602.52 L236.00,602.84 L236.50,602.70 L237.00,602.76 L237.50,602.94 L238.00,602.55 L238.50,603.02 L239.00,602.33 L239.50,602.86 L240.00,602.67 L240.50,602.31 L241.00,602.97 L241.50,602.75 L242.00,602.61 L242.50,602.93 L243.00,603.01 L243.50,602.53 L244.00,602.84 L244.50,602.80 L245.00,602.76 L245.50,603.09 L246.00,602.36 L246.50,602.59 L247.00,602.70 L247.50,602.67 L248.00,602.71 L248.37,602.69 L248.50,602.68 L248.92,602.26 L248.96,600.10 L249.00,600.10 L249.04,600.10 L249.08,601.90 L249.50,602.80 L249.63,602.53 L250.00,601.76 L250.50,602.75 L251.00,602.93 L251.50,602.79 L252.00,602.34 L252.50,602.94 L253.00,601.38 L253.50,602.32 L254.00,602.49 L254.50,602.77 L255.00,602.03 L255.50,601.20 L256.00,603.08 L256.50,602.86 L257.00,601.78 L257.50,601.82 L258.00,602.19 L258.50,602.01 L259.00,601.25 L259.50,601.37 L260.00,601.37 L260.50,601.88 L261.00,601.92 L261.50,602.12 L262.00,602.45 L262.50,602.39 L263.00,601.48 L263.50,602.63 L264.00,602.43 L264.50,601.45 L265.00,602.77 L265.50,602.37 L266.00,602.55 L266.50,601.70 L267.00,601.04 L267.50,602.48 L268.00,601.50 L268.50,602.21 L269.00,602.20 L269.50,602.41 L270.00,601.13 L270.50,602.22 L271.00,600.87 L271.50,602.48 L272.00,601.89 L272.50,600.87 L273.00,601.28 L273.50,602.45 L274.00,601.01 L274.50,601.86 L275.00,601.94 L275.50,601.53 L276.00,601.14 L276.50,600.31 L277.00,601.85 L277.50,602.29 L278.00,602.22 L278.50,601.49 L279.00,601.29 L279.50,601.04 L280.00,600.72 L280.50,601.22 L281.00,601.31 L281.50,601.20 L282.00,601.85 L282.50,601.15 L283.00,602.18 L283.50,601.34 L284.00,601.22 L284.50,601.49 L285.00,600.81 L285.50,600.63 L286.00,600.37 L286.50,601.38 L287.00,601.14 L287.50,600.89 L288.00,600.33 L288.50,602.46 L289.00,601.01 L289.50,601.14 L290.00,602.33 L290.50,601.44 L291.00,601.71 L291.50,601.65 L292.00,601.67 L292.50,601.37 L293.00,601.10 L293.50,602.23 L294.00,601.13 L294.50,602.70 L295.00,602.93 L295.50,602.92 L296.00,602.12 L296.50,602.34 L297.00,602.67 L297.50,603.00 L298.00,602.80 L298.27,602.44 L298.50,602.13 L298.82,602.06 L298.86,596.10 L298.94,596.10 L298.98,601.90 L299.00,601.94 L299.50,602.99 L299.53,602.99 L300.00,602.96 L300.50,601.67 L301.00,602.85 L301.50,602.45 L302.00,601.96 L302.50,602.98 L303.00,601.99 L303.50,602.27 L304.00,601.23 L304.50,602.92 L305.00,602.12 L305.50,602.49 L306.00,602.23 L306.50,601.44 L307.00,602.32 L307.50,601.48 L308.00,602.97 L308.50,602.80 L309.00,602.93 L309.50,602.44 L310.00,602.42 L310.50,602.29 L311.00,602.35 L311.50,601.15 L312.00,602.47 L312.50,601.92 L313.00,601.33 L313.50,602.71 L314.00,601.88 L314.50,602.85 L315.00,602.92 L315.50,601.81 L316.00,600.95 L316.50,602.42 L317.00,601.99 L317.50,601.53 L318.00,602.27 L318.50,601.76 L319.00,602.16 L319.50,602.57 L320.00,602.08 L320.50,602.12 L321.00,602.62 L321.50,602.72 L322.00,602.52 L322.50,601.39 L323.00,601.49 L323.50,602.20 L324.00,601.87 L324.50,602.70 L325.00,602.78 L325.50,601.91 L326.00,602.28 L326.50,602.97 L327.00,601.42 L327.50,602.70 L328.00,602.70 L328.50,602.72 L329.00,602.24 L329.50,602.99 L330.00,602.72 L330.50,602.10 L331.00,602.43 L331.50,602.67 L332.00,601.99 L332.50,602.91 L333.00,602.91 L333.50,602.18 L334.00,602.02 L334.50,601.89 L335.00,601.35 L335.50,602.29 L336.00,602.63 L336.50,602.21 L337.00,601.91 L337.50,602.46 L338.00,602.87 L338.50,601.82 L339.00,601.99 L339.50,602.20 L340.00,602.60 L340.50,603.06 L341.00,601.90 L341.50,602.36 L342.00,602.44 L342.50,603.10 L343.00,602.87 L343.50,601.67 L344.00,602.27 L344.50,602.36 L345.00,602.04 L345.50,602.51 L346.00,603.04 L346.50,601.51 L347.00,602.98 L347.50,602.96 L348.00,602.39 L348.50,602.47 L349.00,602.99 L349.50,601.87 L350.00,602.28 L350.50,601.83 L351.00,602.14 L351.50,601.84 L352.00,602.36 L352.50,603.02 L353.00,601.59 L353.50,602.53 L353.60,602.87 L353.60,603.20 L33.50,603.20 Z"/>
<path d="M355.60,603.05 L356.10,603.05 L356.60,603.05 L357.10,603.05 L357.60,603.05 L358.10,603.05 L358.60,603.05 L359.10,603.05 L359.60,603.05 L360.10,603.05 L360.60,603.05 L361.10,603.05 L361.60,603.05 L362.10,603.05 L362.60,603.05 L363.10,603.05 L363.60,603.05 L364.10,603.05 L364.60,603.05 L365.10,603.05 L365.60,603.05 L366.10,603.05 L366.60,603.05 L367.10,603.05 L367.60,603.05 L368.10,603.05 L368.60,603.05 L369.10,603.05 L369.60,603.05 L370.10,603.05 L370.60,603.05 L371.10,603.05 L371.60,603.05 L372.10,603.05 L372.60,603.05 L373.10,603.05 L373.60,603.05 L374.10,603.05 L374.60,603.05 L375.10,603.05 L375.60,603.05 L376.10,603.05 L376.60,603.05 L377.10,603.05 L377.60,603.05 L378.10,603.05 L378.60,603.05 L379.10,603.05 L379.60,603.05 L380.10,603.05 L380.60,603.05 L381.10,603.05 L381.60,603.05 L382.10,603.05 L382.60,603.05 L383.10,603.05 L383.60,603.05 L384.10,603.05 L384.60,603.05 L385.10,603.05 L385.60,603.05 L386.10,603.05 L386.60,603.05 L387.10,603.05 L387.60,603.05 L388.10,603.05 L388.60,603.05 L389.10,603.05 L389.60,603.05 L390.10,603.05 L390.60,603.05 L391.10,603.05 L391.60,603.05 L392.10,603.05 L392.60,603.05 L393.10,603.05 L393.60,603.05 L394.10,603.05 L394.60,603.05 L395.10,603.05 L395.60,603.05 L396.10,603.05 L396.60,603.05 L397.10,603.05 L397.60,603.05 L398.10,603.05 L398.60,603.05 L399.10,603.05 L399.60,603.05 L400.10,603.05 L400.60,603.05 L401.10,603.05 L401.60,603.05 L402.10,603.05 L402.60,603.05 L403.10,603.05 L403.60,603.05 L404.10,603.05 L404.60,603.05 L405.10,603.05 L405.60,603.05 L406.10,603.05 L406.60,603.05 L407.10,603.05 L407.60,603.05 L408.10,603.05 L408.60,603.05 L409.10,603.05 L409.60,603.05 L410.10,603.05 L410.60,603.05 L411.10,603.05 L411.60,603.05 L412.10,603.05 L412.60,603.05 L413.10,603.05 L413.60,603.05 L414.10,603.05 L414.60,603.05 L415.10,603.05 L415.60,603.05 L416.10,603.05 L416.60,603.05 L417.10,603.05 L417.60,603.05 L418.10,603.05 L418.60,603.05 L419.10,603.05 L419.60,603.05 L420.10,603.05 L420.60,603.05 L421.10,603.05 L421.60,603.05 L422.10,603.05 L422.60,603.05 L423.10,603.05 L423.60,603.05 L424.10,603.05 L424.60,603.05 L425.10,603.05 L425.60,603.05 L426.10,603.05 L426.60,603.05 L427.10,603.05 L427.60,603.05 L428.10,603.05 L428.60,603.05 L429.10,603.05 L429.60,603.05 L430.10,602.66 L430.60,602.99 L431.10,602.88 L431.60,602.55 L432.10,603.00 L432.60,602.79 L433.10,602.91 L433.60,602.84 L434.10,602.93 L434.60,602.91 L435.10,603.00 L435.60,602.79 L436.10,602.76 L436.17,602.75 L436.60,602.39 L436.72,602.21 L436.76,597.55 L436.84,597.55 L436.88,601.85 L437.10,602.33 L437.43,602.93 L437.60,603.00 L438.10,602.79 L438.60,602.84 L439.10,602.84 L439.60,602.77 L440.10,603.00 L440.60,602.90 L441.10,602.77 L441.60,603.00 L442.10,602.69 L442.60,602.76 L443.10,602.53 L443.60,602.57 L444.10,602.74 L444.60,603.04 L445.10,602.56 L445.60,602.94 L446.10,602.90 L446.60,602.63 L447.10,602.71 L447.60,602.78 L448.10,603.04 L448.60,602.92 L449.10,602.78 L449.60,602.55 L449.77,602.65 L450.10,602.55 L450.32,602.21 L450.36,599.05 L450.44,599.05 L450.48,601.85 L450.60,602.11 L451.03,602.80 L451.10,602.77 L451.60,602.91 L452.10,602.72 L452.60,602.87 L453.10,602.99 L453.60,602.67 L454.10,602.86 L454.60,602.70 L455.10,602.71 L455.60,602.46 L456.10,603.02 L456.60,602.68 L457.10,602.94 L457.60,602.61 L458.10,602.88 L458.60,602.93 L459.07,602.97 L459.10,602.97 L459.60,602.51 L459.62,602.49 L459.66,601.05 L459.74,601.05 L459.78,602.25 L460.10,602.72 L460.33,603.01 L460.37,603.00 L460.60,602.82 L460.92,602.49 L460.96,601.05 L461.04,601.05 L461.08,602.25 L461.10,602.28 L461.60,602.67 L461.63,602.68 L462.10,602.89 L462.50,602.76 L462.60,602.69 L463.10,600.91 L463.20,600.55 L463.52,594.05 L463.60,585.61 L463.70,575.05 L463.77,457.05 L463.83,457.05 L463.90,575.05 L464.10,594.05 L464.37,598.10 L464.50,600.05 L464.60,600.43 L464.92,601.62 L464.96,600.05 L465.04,600.05 L465.08,601.85 L465.10,601.89 L465.30,602.33 L465.60,602.96 L465.63,602.94 L466.10,602.60 L466.60,603.00 L467.10,602.59 L467.60,602.97 L468.10,602.93 L468.60,603.02 L469.10,602.60 L469.60,602.97 L470.10,602.82 L470.60,602.66 L471.10,603.04 L471.60,603.02 L471.97,602.85 L472.10,602.79 L472.52,602.21 L472.56,599.05 L472.60,599.05 L472.64,599.05 L472.68,601.85 L473.10,602.51 L473.23,602.56 L473.60,602.67 L474.10,602.70 L474.60,602.84 L475.10,602.91 L475.50,602.71 L475.60,602.66 L476.08,600.95 L476.10,600.47 L476.36,594.23 L476.47,582.05 L476.53,582.05 L476.60,589.80 L476.64,594.23 L476.95,600.95 L477.10,601.43 L477.60,602.50 L478.10,602.56 L478.60,602.61 L479.10,602.83 L479.47,602.88 L479.60,602.85 L480.02,602.21 L480.06,596.05 L480.10,596.05 L480.14,596.05 L480.18,601.85 L480.60,602.77 L480.73,602.94 L481.10,602.63 L481.60,602.99 L482.10,602.81 L482.60,603.00 L483.10,603.01 L483.60,602.94 L483.70,602.86 L484.10,601.74 L484.28,601.15 L484.56,595.07 L484.60,591.06 L484.67,584.05 L484.73,584.05 L484.84,595.07 L485.10,600.17 L485.15,601.15 L485.17,601.21 L485.60,602.39 L485.72,602.21 L485.76,595.05 L485.80,595.05 L485.84,595.05 L485.88,601.85 L486.10,602.33 L486.43,602.97 L486.60,602.94 L487.00,602.69 L487.10,602.63 L487.60,600.91 L487.70,600.55 L488.02,594.05 L488.10,585.61 L488.20,575.05 L488.27,357.55 L488.33,357.55 L488.40,575.05 L488.60,594.05 L488.87,598.10 L489.00,600.05 L489.10,600.43 L489.42,601.62 L489.46,599.05 L489.54,599.05 L489.58,601.85 L489.60,601.89 L489.80,602.33 L490.10,602.88 L490.13,602.87 L490.60,602.67 L491.10,602.95 L491.60,602.92 L492.10,602.77 L492.60,602.55 L493.10,602.58 L493.37,602.82 L493.60,602.82 L493.92,602.49 L493.96,601.05 L494.04,601.05 L494.08,602.25 L494.10,602.28 L494.60,602.69 L494.63,602.70 L495.10,602.87 L495.60,603.03 L496.10,602.92 L496.60,602.81 L497.10,602.89 L497.60,602.86 L498.10,602.91 L498.60,602.63 L499.10,602.63 L499.37,602.58 L499.60,602.55 L499.92,602.21 L499.96,599.05 L500.04,599.05 L500.08,601.85 L500.10,601.89 L500.60,602.71 L500.63,602.73 L501.10,603.00 L501.60,602.79 L501.90,602.91 L502.10,602.67 L502.48,601.95 L502.60,600.44 L502.76,598.43 L502.87,592.05 L502.93,592.05 L503.04,598.43 L503.10,599.11 L503.35,601.95 L503.60,602.37 L504.00,602.73 L504.10,602.75 L504.60,602.89 L505.10,602.65 L505.60,602.82 L506.10,602.73 L506.60,602.91 L507.10,602.67 L507.60,602.55 L508.10,602.79 L508.60,602.96 L509.10,602.59 L509.60,602.84 L510.10,602.72 L510.57,602.79 L510.60,602.80 L511.10,602.24 L511.12,602.21 L511.16,598.05 L511.24,598.05 L511.28,601.85 L511.60,602.55 L511.83,602.54 L512.10,602.51 L512.60,602.53 L513.10,602.44 L513.60,602.83 L514.10,602.83 L514.60,602.93 L515.10,602.64 L515.60,602.79 L516.10,603.05 L516.60,602.55 L517.10,602.83 L517.60,602.84 L518.10,602.98 L518.60,603.00 L519.10,602.86 L519.60,602.64 L520.10,602.74 L520.60,602.83 L521.10,602.71 L521.60,602.27 L522.10,602.43 L522.60,602.79 L523.10,602.26 L523.60,602.00 L524.10,601.96 L524.60,602.03 L525.10,602.88 L525.60,603.01 L526.10,602.76 L526.60,602.37 L527.10,602.44 L527.60,602.18 L528.10,602.53 L528.60,602.32 L529.10,602.42 L529.60,601.99 L530.10,602.64 L530.60,602.30 L531.07,602.86 L531.10,602.89 L531.60,602.24 L531.62,602.21 L531.66,600.05 L531.74,600.05 L531.78,601.85 L532.10,602.55 L532.33,602.65 L532.60,602.76 L533.10,603.01 L533.60,602.51 L534.10,603.00 L534.60,602.71 L535.10,602.09 L535.60,602.86 L536.10,602.58 L536.60,602.04 L537.10,602.75 L537.60,602.99 L538.10,602.87 L538.60,603.02 L539.10,602.36 L539.60,602.31 L540.10,602.31 L540.60,602.35 L541.10,602.65 L541.60,602.73 L542.10,602.20 L542.60,602.69 L543.10,602.82 L543.60,602.28 L544.10,603.00 L544.60,602.70 L545.10,602.66 L545.60,602.42 L545.87,602.71 L546.10,602.70 L546.42,602.21 L546.46,595.05 L546.54,595.05 L546.58,601.85 L546.60,601.89 L547.10,602.77 L547.13,602.77 L547.60,602.73 L548.10,602.57 L548.60,602.65 L549.10,602.68 L549.60,602.84 L550.10,602.92 L550.27,602.92 L550.60,602.71 L550.82,602.49 L550.86,601.05 L550.94,601.05 L550.98,602.25 L551.10,602.42 L551.53,602.66 L551.60,602.59 L552.10,602.94 L552.60,603.01 L553.10,602.47 L553.60,602.91 L554.10,602.42 L554.60,603.03 L555.10,602.40 L555.60,602.64 L556.10,602.79 L556.60,602.41 L557.10,602.77 L557.60,602.53 L558.10,602.90 L558.60,602.77 L559.10,602.98 L559.60,602.78 L560.10,602.86 L560.60,602.11 L561.10,602.66 L561.60,602.53 L562.10,602.18 L562.60,602.76 L563.10,602.00 L563.60,601.87 L564.10,602.83 L564.60,602.24 L565.10,602.92 L565.60,602.79 L566.10,602.91 L566.60,602.87 L567.10,602.78 L567.60,602.63 L568.10,602.42 L568.17,602.46 L568.60,602.61 L568.72,602.49 L568.76,601.05 L568.84,601.05 L568.88,602.25 L569.10,602.57 L569.43,602.57 L569.60,602.42 L570.10,601.73 L570.60,602.74 L571.10,602.09 L571.60,602.29 L572.10,602.44 L572.60,602.54 L573.10,602.21 L573.60,602.70 L574.10,602.32 L574.60,602.54 L575.10,602.63 L575.60,602.66 L576.10,602.98 L576.60,602.22 L577.10,602.74 L577.60,603.02 L578.10,602.46 L578.60,602.26 L579.10,602.39 L579.60,602.57 L580.10,602.18 L580.60,602.79 L581.10,602.94 L581.60,602.44 L582.10,602.92 L582.60,602.54 L583.10,602.96 L583.60,603.01 L584.10,602.25 L584.60,602.53 L585.10,602.59 L585.60,602.16 L586.10,602.44 L586.60,602.72 L587.10,602.26 L587.60,602.90 L588.10,602.40 L588.60,602.39 L589.10,602.41 L589.60,602.77 L590.10,602.89 L590.60,602.74 L591.10,601.98 L591.60,603.04 L592.10,602.01 L592.60,602.99 L593.10,602.15 L593.60,603.01 L594.10,602.54 L594.60,602.77 L595.10,602.11 L595.60,602.11 L596.10,602.43 L596.60,602.26 L597.10,602.66 L597.60,601.85 L598.10,601.67 L598.60,602.29 L599.10,602.22 L599.60,601.89 L600.10,602.67 L600.60,602.56 L601.10,601.94 L601.60,601.75 L602.10,602.76 L602.60,602.45 L603.10,602.24 L603.60,602.94 L604.10,602.74 L604.60,602.44 L605.10,602.71 L605.60,601.94 L606.10,602.22 L606.60,601.78 L607.10,602.73 L607.60,602.19 L608.10,602.66 L608.60,602.48 L609.10,602.81 L609.60,602.40 L610.10,602.38 L610.60,602.09 L611.10,602.37 L611.60,602.45 L612.10,602.27 L612.60,603.03 L613.10,602.41 L613.60,602.20 L614.10,602.21 L614.60,602.17 L615.10,601.66 L615.60,603.01 L616.10,602.68 L616.60,602.76 L617.10,602.27 L617.47,602.55 L617.60,602.65 L618.02,602.21 L618.06,597.55 L618.10,597.55 L618.14,597.55 L618.18,601.85 L618.60,602.19 L618.73,602.34 L619.10,602.76 L619.60,602.47 L620.10,602.15 L620.60,602.27 L621.10,602.56 L621.60,603.05 L622.10,603.05 L622.60,602.07 L623.10,602.81 L623.60,602.56 L624.10,601.89 L624.60,602.61 L625.10,602.99 L625.60,602.57 L626.10,602.57 L626.60,601.83 L627.10,601.66 L627.60,601.61 L628.10,602.53 L628.60,601.97 L629.10,603.00 L629.60,602.21 L630.10,603.04 L630.60,602.02 L631.10,602.37 L631.60,602.90 L632.10,602.83 L632.60,602.51 L633.10,602.47 L633.60,602.93 L634.10,602.43 L634.60,602.20 L635.10,602.41 L635.60,602.27 L636.10,602.32 L636.60,602.93 L637.10,602.97 L637.60,602.12 L638.10,602.97 L638.60,602.82 L639.10,602.75 L639.60,602.37 L640.10,602.84 L640.60,602.65 L641.10,602.93 L641.60,602.93 L642.10,602.42 L642.60,602.30 L643.10,602.83 L643.37,602.37 L643.60,601.98 L643.92,601.80 L643.96,601.05 L644.04,601.05 L644.08,601.71 L644.10,601.70 L644.60,601.61 L644.63,601.64 L645.10,602.08 L645.60,602.81 L646.10,602.83 L646.60,602.34 L647.10,602.86 L647.60,602.44 L648.10,603.02 L648.60,602.74 L649.10,601.88 L649.60,602.95 L650.10,602.62 L650.60,602.89 L651.10,602.61 L651.60,602.17 L652.10,601.76 L652.60,602.24 L653.10,602.75 L653.60,602.21 L654.10,602.36 L654.60,602.62 L655.10,602.27 L655.60,602.02 L656.10,602.48 L656.60,602.04 L657.10,602.69 L657.60,601.91 L658.10,602.20 L658.60,602.40 L659.10,602.27 L659.60,602.39 L660.10,602.84 L660.60,602.33 L661.10,602.49 L661.60,602.38 L662.10,601.90 L662.60,602.36 L663.10,602.22 L663.60,602.15 L664.10,602.53 L664.60,602.39 L665.10,602.92 L665.60,602.94 L666.10,602.34 L666.60,602.54 L667.10,602.14 L667.60,602.30 L668.10,602.88 L668.60,601.94 L669.10,602.66 L669.60,602.14 L670.10,601.84 L670.60,602.47 L671.10,602.99 L671.60,602.00 L672.10,602.99 L672.60,602.16 L673.10,602.35 L673.60,601.80 L674.10,602.99 L674.60,602.30 L675.10,602.19 L675.60,602.96 L676.10,602.47 L676.60,602.24 L677.10,602.07 L677.60,601.68 L678.10,602.76 L678.60,602.11 L679.10,602.33 L679.60,602.17 L680.10,602.72 L680.60,602.31 L681.00,602.79 L681.00,603.15 L355.60,603.15 Z"/>
</g>
<circle cx="53.8" cy="33.9" r="3.90" fill="#ea1f26"/>
<circle cx="119.0" cy="282.2" r="3.90" fill="#ea1f26"/>
<circle cx="145.5" cy="168.5" r="3.90" fill="#ea1f26"/>
<circle cx="170.4" cy="43.0" r="3.90" fill="#ea1f26"/>
<circle cx="192.7" cy="278.8" r="3.90" fill="#ea1f26"/>
<circle cx="213.2" cy="282.7" r="3.90" fill="#ea1f26"/>
<circle cx="232.5" cy="278.4" r="3.90" fill="#ea1f26"/>
<circle cx="250.8" cy="278.4" r="3.90" fill="#ea1f26"/>
<circle cx="439.0" cy="255.5" r="3.90" fill="#ea1f26"/>
<circle cx="466.6" cy="54.6" r="3.90" fill="#ea1f26"/>
<circle cx="491.2" cy="42.5" r="3.90" fill="#ea1f26"/>
<circle cx="513.0" cy="267.3" r="3.90" fill="#ea1f26"/>
<circle cx="533.9" cy="274.6" r="3.90" fill="#ea1f26"/>
<circle cx="553.1" cy="273.9" r="3.90" fill="#ea1f26"/>
<circle cx="571.0" cy="272.7" r="3.90" fill="#ea1f26"/>
<circle cx="117.5" cy="584.6" r="3.90" fill="#ea1f26"/>
<circle cx="145.3" cy="402.0" r="3.90" fill="#ea1f26"/>
<circle cx="168.8" cy="347.3" r="3.90" fill="#ea1f26"/>
<circle cx="437.8" cy="587.8" r="3.90" fill="#ea1f26"/>
<circle cx="464.0" cy="448.2" r="3.90" fill="#ea1f26"/>
<circle cx="487.4" cy="345.9" r="3.90" fill="#ea1f26"/>
<g font-family="'Liberation Sans', Arial, Helvetica, sans-serif" text-rendering="geometricPrecision" fill="#262626" stroke="#262626" stroke-width="0.2">
<text x="119.0" y="276.0" font-size="10" text-anchor="middle" >14</text>
<text x="144.6" y="161.0" font-size="10" text-anchor="middle" >16</text>
<text x="170.5" y="37.0" font-size="10" text-anchor="middle" >18</text>
<text x="192.9" y="273.0" font-size="10" text-anchor="middle" >20</text>
<text x="213.1" y="276.0" font-size="10" text-anchor="middle" >22</text>
<text x="232.6" y="272.0" font-size="10" text-anchor="middle" >24</text>
<text x="251.3" y="272.0" font-size="10" text-anchor="middle" >26</text>
<text x="300.3" y="286.0" font-size="10" text-anchor="middle" >IS</text>
<text x="439.2" y="248.0" font-size="10" text-anchor="middle" >14</text>
<text x="466.0" y="48.0" font-size="10" text-anchor="middle" >16</text>
<text x="491.5" y="36.0" font-size="10" text-anchor="middle" >18</text>
<text x="513.6" y="261.0" font-size="10" text-anchor="middle" >20</text>
<text x="534.0" y="269.0" font-size="10" text-anchor="middle" >22</text>
<text x="553.1" y="268.0" font-size="10" text-anchor="middle" >24</text>
<text x="571.6" y="266.0" font-size="10" text-anchor="middle" >26</text>
<text x="621.0" y="286.0" font-size="10" text-anchor="middle" >IS</text>
<text x="117.5" y="578.0" font-size="10" text-anchor="middle" >14</text>
<text x="144.6" y="395.0" font-size="10" text-anchor="middle" >16</text>
<text x="169.1" y="341.0" font-size="10" text-anchor="middle" >18</text>
<text x="301.0" y="590.0" font-size="10" text-anchor="middle" >IS</text>
<text x="437.8" y="581.0" font-size="10" text-anchor="middle" >14</text>
<text x="463.2" y="441.0" font-size="10" text-anchor="middle" >16</text>
<text x="487.6" y="339.0" font-size="10" text-anchor="middle" >18</text>
<text x="618.8" y="591.0" font-size="10" text-anchor="middle" >IS</text>
<text x="340.2" y="41.0" font-size="10" text-anchor="end" >NAM29</text>
<text x="671.5" y="41.0" font-size="10" text-anchor="end" >NAM35</text>
<text x="339.9" y="332.0" font-size="10" text-anchor="end" >NAM66</text>
<text x="671.2" y="332.0" font-size="10" text-anchor="end" >NAM97</text>
<text x="67.6" y="37.0" font-size="9.85" text-anchor="start" >Fatty acid</text>
<text x="50.8" y="619.0" font-size="10" text-anchor="middle" >10</text>
<text x="179.9" y="619.0" font-size="10" text-anchor="middle" >20</text>
<text x="308.8" y="619.0" font-size="10" text-anchor="middle" >30</text>
<text x="370.6" y="618.0" font-size="10" text-anchor="middle" >10</text>
<text x="499.7" y="618.0" font-size="10" text-anchor="middle" >20</text>
<text x="629.0" y="618.0" font-size="10" text-anchor="middle" >30</text>
<text x="48.9" y="21.2" font-size="17.4" text-anchor="start" >a</text>
<text x="366.6" y="21.1" font-size="17.2" text-anchor="start" >b</text>
<text x="45.4" y="327.4" font-size="17.0" text-anchor="start" stroke-width="0.45">c</text>
<text x="366.2" y="327.8" font-size="17.6" text-anchor="start" >d</text>
<text x="354.2" y="648.2" font-size="12.22" text-anchor="middle" >Retention time (min)</text>
<text transform="translate(11.9,395.6) rotate(-90)" font-size="13.05">Relative intensity</text>
</g>
<path d="M11.0,292.4 V229" stroke="#5e5e5e" stroke-width="1.2" fill="none"/>
<path d="M11.1,224.6 L8.0,230.3 L14.2,230.3 Z" fill="#222"/>
</svg>
</body></html>
